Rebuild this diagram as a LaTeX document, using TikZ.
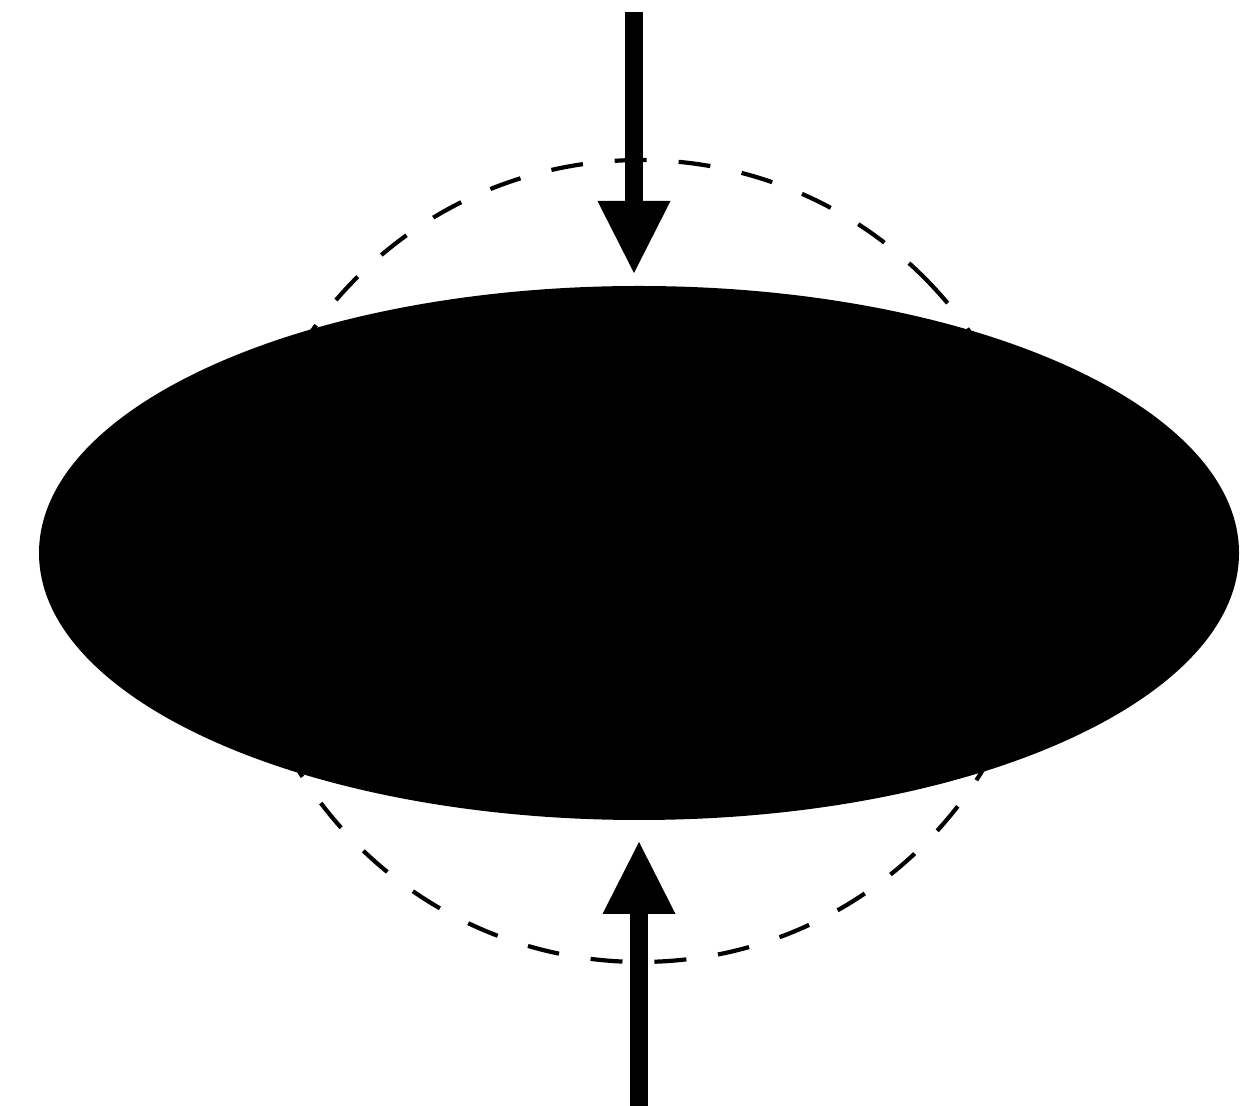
\documentclass[tikz,border=0pt]{standalone}
\usetikzlibrary{arrows.meta}
\begin{document}
\begin{tikzpicture}[x=1pt,y=1pt,
  ring/.style={line width=4.2pt, dash pattern=on 32pt off 32pt},
  body/.style={fill=black, draw=none},
  force/.style={line width=18pt, -{Triangle[length=72pt, width=73pt, line width=0pt]}}]
\useasboundingbox (0,0) rectangle (1244,1105);
\coordinate (c) at (640.5,544);
\coordinate (e) at (639,552);
\coordinate (topstart) at (634,1093);
\coordinate (toptip) at (634,832);
\coordinate (botstart) at (639,-2);
\coordinate (bottip) at (639,263);
\draw[ring] (c) ++(43.4:401pt) arc[start angle=43.4, end angle=403.4, radius=401pt];
\fill[body] (e) ellipse[x radius=600pt, y radius=267pt];
\draw[force] (topstart) -- (toptip);
\draw[force] (botstart) -- (bottip);
\end{tikzpicture}
\end{document}
